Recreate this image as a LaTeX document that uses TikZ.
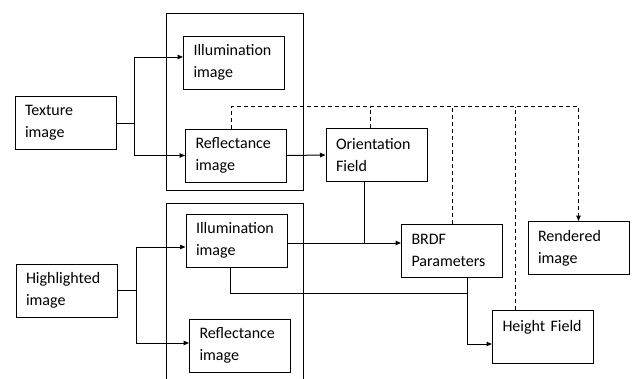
\documentclass[tikz,border=0pt]{standalone}
\usepackage{fontspec}
\setmainfont{Carlito}
\usetikzlibrary{arrows.meta}
\newcommand\boxfont{\fontsize{16}{22}\selectfont}
\tikzset{
  stepbox/.style={draw, line width=1pt, inner xsep=10pt, inner ysep=0pt, align=left,
    text width=81pt, minimum width=101pt, minimum height=53pt, font=\boxfont},
  frame/.style={draw, line width=1pt, inner sep=0pt},
  ln/.style={line width=1pt},
  arr/.style={line width=1pt, -{Triangle[length=5.5pt,width=4.5pt]}},
  dsh/.style={line width=1pt, dash pattern=on 4pt off 3pt}
}
\begin{document}
\begin{tikzpicture}[x=1pt,y=-1pt]
\useasboundingbox (0,0) rectangle (635,378);
% group frames
\node[frame, minimum width=137pt, minimum height=177pt] (grpA) at (234.5,101.5) {};
\draw[ln] (166,380) -- (166,203) -- (303,203) -- (303,380);
% boxes
\node[stepbox] (tex) at (65.5,123) {Texture\\image};
\node[stepbox] (illA) at (234,62.5) {Illumination\\image};
\node[stepbox] (reflA) at (236,155.5) {Reflectance\\image};
\node[stepbox] (orient) at (376.5,155) {Orientation\\Field};
\node[stepbox] (hl) at (66.5,290.5) {Highlighted\\image};
\node[stepbox] (illB) at (236.5,240.5) {Illumination\\image};
\node[stepbox] (reflB) at (240,345.5) {Reflectance\\image};
\node[stepbox] (brdf) at (452,250.5) {BRDF\\Parameters};
\node[stepbox] (rend) at (578.5,248) {Rendered\\image};
\node[stepbox] (height) at (543,337) {Height Field\\\mbox{}};
% texture split
\coordinate (jA) at (134,123);
\draw[ln] (tex.east) -- (jA);
\draw[arr] (jA) |- ([yshift=5.5pt]illA.west);
\draw[arr] (jA) |- (reflA.west);
% highlighted split
\coordinate (jB) at (136,290.5);
\draw[ln] (hl.east) -- (jB);
\draw[arr] (jB) |- ([yshift=-6.5pt]illB.west);
\draw[arr] (jB) |- ([yshift=2.5pt]reflB.west);
% reflectance -> orientation
\draw[arr] (reflA.east) -- (orient.west);
% illumination -> BRDF, orientation joins
\draw[arr] ([yshift=-2.5pt]illB.east) coordinate (ib) -- (ib -| brdf.west);
\draw[ln] ([xshift=-12.5pt]orient.south) coordinate (os) -- (os |- ib);
% BRDF -> height, illumination joins
\draw[arr] ([xshift=15pt]brdf.south) coordinate (bs) |- ([yshift=-7pt]height.west);
\draw[ln] ([xshift=-6.5pt]illB.south) coordinate (isb) -- ++(0,26) coordinate (t) -- (t -| bs);
% dashed bus
\draw[dsh, -{Triangle[length=5.5pt,width=4.5pt]}] ([xshift=-5pt]reflA.north) -- ++(0,-22) coordinate (dtop) -| (rend.north);
\draw[dsh] ([xshift=-6.5pt]orient.north) coordinate (on) -- (on |- dtop);
\draw[dsh] (brdf.north) -- (brdf.north |- dtop);
\draw[dsh] ([xshift=-28pt]height.north) coordinate (hn) -- (hn |- dtop);
\end{tikzpicture}
\end{document}
